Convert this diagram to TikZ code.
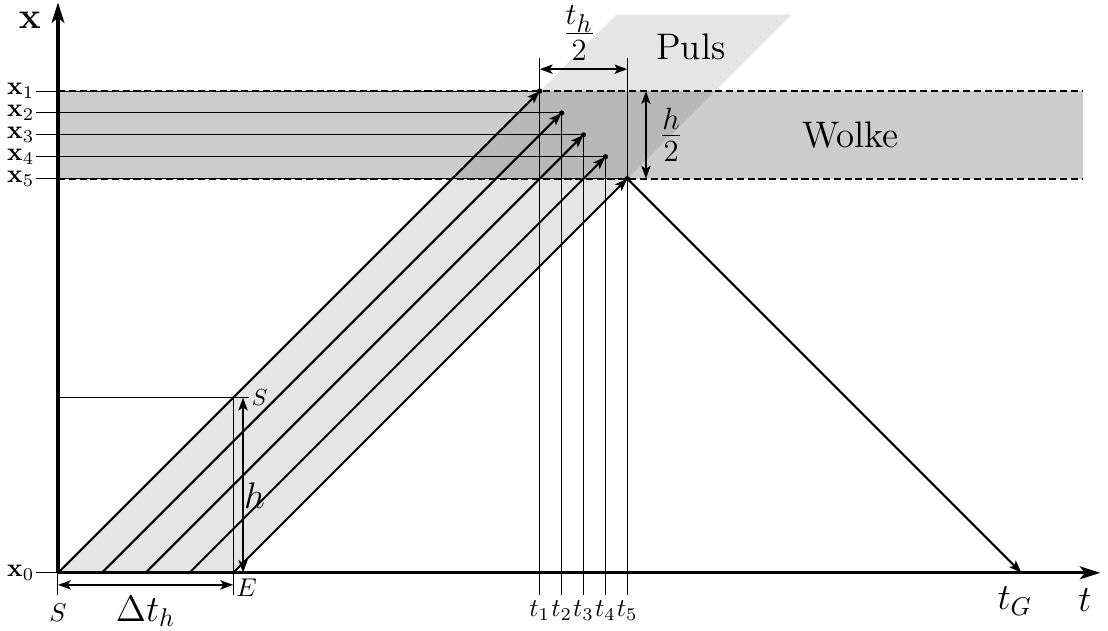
\documentclass[tikz,border=0pt]{standalone}
\usetikzlibrary{arrows.meta}
\begin{document}
\begin{tikzpicture}[>={Stealth[length=5pt,width=3.6pt,inset=1.2pt]}, x=0.3cm, y=0.3cm, font=\normalsize]
			\useasboundingbox (-2.648,-2.648) rectangle (47.95,26.16);
			\tikzset{strahl/.style={thick}, hilf/.style={thin}, band/.style={thick, dash pattern=on 2.8pt off 1.4pt},
				achse/.style={very thick, -{Stealth[length=8pt,width=5pt,inset=2pt]}}}
			% Puls und Wolke
			\fill[black, opacity=0.1] (0,0) -- (8,0) -- (33.5,25.5) -- (25.5,25.5) -- cycle;
			\fill[black, opacity=0.2] (0,18) rectangle (46.8,22);
			\coordinate (O) at (0,0);
			\coordinate (E) at (8,0);
			\coordinate (G) at (44,0);
			% Hilfslinien
			\draw[hilf] (0,8) -- (8.7,8) node[right, inner sep=1pt, font=\small]{$S$};
			\draw[hilf] (E) -- (8,-1) (8,0) -- (8,8);
			\draw[hilf] (O) -- (0,-1) node[below]{$S$};
			\draw[hilf] (O) -- (-1,0) node[left, inner sep=0.5pt]{$\mathbf{x}_0$};
			\foreach \k [count=\i] in {0,...,4} {
				\coordinate (P\i) at (22+\k,22-\k);
				\draw[hilf] (P\i) -- (22+\k,-1) node[below, inner sep=2pt]{$t_{\i}$};
				\draw[hilf] (P\i) -- (-1,22-\k) node[left, inner sep=0.5pt]{$\mathbf{x}_{\i}$};
			}
			\draw[hilf] (P1) -- (22,23.5) (P5) -- (26,23.5);
			\draw[band] (0,22) -- (46.8,22) (0,18) -- (46.8,18);
			% Strahlen
			\foreach \k [count=\i] in {0,...,4} {
				\draw[strahl,->] (2*\k,0) -- (P\i);
				\fill (P\i) circle (0.12);
			}
			\draw[strahl,->] (P5) -- (G);
			% Achsen
			\draw[achse] (O) -- (47.6,0);
			\draw[achse] (O) -- (0,26.05);
			\node at (-1.28,25.25) {\Large$\mathbf{x}$};
			\node at (46.9,-1.25) {\Large$t$};
			\node at (43.7,-1.3) {\Large$t_G$};
			% Masse
			\draw[thick,<->] (8.45,0) -- (8.45,8) node[midway, right, inner sep=0pt, yshift=-4pt]{\Large$h$};
			\draw[thick,<->] (0,-0.55) -- (8,-0.55);
			\node at (4,-1.75) {\Large$\Delta t_h$};
			\node[right, inner sep=1pt] at (8,-0.7) {$E$};
			\draw[thick,<->] (22,23) -- (26,23);
			\node at (23.8,24.65) {\LARGE$\frac{t_h}{2}$};
			\draw[thick,<->] (26.85,22) -- (26.85,18);
			\node at (28,20) {\LARGE$\frac{h}{2}$};
			\node at (28.9,24) {\Large Puls};
			\node at (36.2,20) {\Large Wolke};
		\end{tikzpicture}
\end{document}
